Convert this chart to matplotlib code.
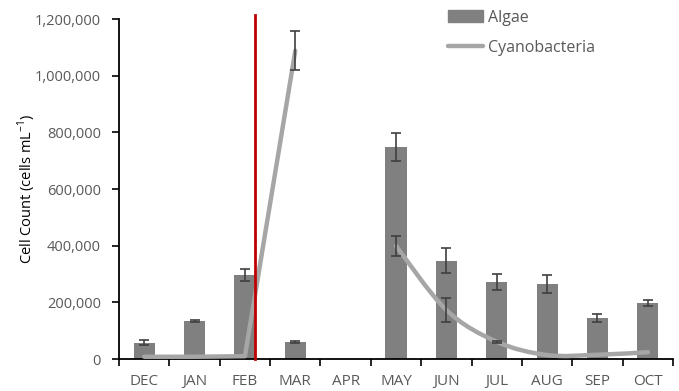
import numpy as np
import matplotlib
matplotlib.use('Agg')
import matplotlib.pyplot as plt
from matplotlib.path import Path
from matplotlib.patches import PathPatch
from matplotlib.lines import Line2D
from matplotlib.ticker import FuncFormatter

months = ['DEC', 'JAN', 'FEB', 'MAR', 'APR', 'MAY', 'JUN', 'JUL', 'AUG', 'SEP', 'OCT']
algae = [58000, 135000, 297000, 61000, np.nan, 749000, 347000, 272000, 265000, 145000, 199000]
algae_err = [8000, 4000, 21000, 4000, np.nan, 50000, 44000, 27000, 33000, 13000, 11000]
cyano = [8000, 8000, 10000, 1088000, np.nan, 399000, 173000, 61000, 14000, 15000, 24000]
cyano_err = [np.nan, np.nan, np.nan, 68000, np.nan, 36000, 44000, 4000, np.nan, np.nan, np.nan]
event_x = 2.2  # marker between FEB and MAR

plt.rcParams['font.family'] = ['Open Sans', 'DejaVu Sans']

fig = plt.figure(figsize=(6.79, 3.91), dpi=100)
ax = fig.add_axes([0.1753, 0.0818, 0.8159, 0.8696])
x = np.arange(len(months))

ax.bar(x, algae, width=0.42, color='#808080', label='Algae', zorder=2)
ax.errorbar(x, algae, yerr=algae_err, fmt='none', ecolor='#404040',
            elinewidth=1.2, capsize=3.5, capthick=1.2, zorder=3)

line_col = '#a6a6a6'
# winter part drawn straight
ax.plot(x[:4], cyano[:4], color=line_col, lw=3.2, solid_capstyle='round', zorder=4)

# smoothed curve for MAY-OCT (Catmull-Rom -> cubic bezier)
def smooth_path(xs, ys):
    xs = np.asarray(xs, float)
    ys = np.asarray(ys, float)
    pts = np.column_stack([xs, ys])
    ext = np.vstack([pts[0], pts, pts[-1]])
    verts = [pts[0]]
    codes = [Path.MOVETO]
    for i in range(1, len(ext) - 2):
        p0, p1, p2, p3 = ext[i - 1], ext[i], ext[i + 1], ext[i + 2]
        c1 = p1 + (p2 - p0) / 6.0
        c2 = p2 - (p3 - p1) / 6.0
        verts += [c1, c2, p2]
        codes += [Path.CURVE4] * 3
    return Path(verts, codes)

ax.add_patch(PathPatch(smooth_path(x[5:], cyano[5:]), fill=False,
                       edgecolor=line_col, lw=3.2, capstyle='round', zorder=4))
ax.errorbar(x, cyano, yerr=cyano_err, fmt='none', ecolor='#404040',
            elinewidth=1.2, capsize=3.5, capthick=1.2, zorder=5)

ax.plot([event_x, event_x], [0, 1215000], color='#c00000', lw=2, clip_on=False, zorder=6)

ax.set_xlim(-0.5, 10.5)
ax.set_ylim(0, 1200000)
ax.set_yticks(np.arange(0, 1200001, 200000))
ax.yaxis.set_major_formatter(FuncFormatter(lambda v, p: f'{int(v):,}'))
ax.set_xticks(np.arange(-0.5, 11, 1.0))
ax.set_xticklabels([])
ax.set_xticks(x, minor=True)
ax.set_xticklabels(months, minor=True)
ax.tick_params(axis='x', which='major', length=5, width=1.2, direction='out')
ax.tick_params(axis='x', which='minor', length=0, pad=11, labelsize=11, labelcolor='#595959')
ax.tick_params(axis='y', length=5, width=1.2, direction='out', labelsize=10.5, labelcolor='#595959', pad=8)
for s in ['top', 'right']:
    ax.spines[s].set_visible(False)
for s in ['left', 'bottom']:
    ax.spines[s].set_linewidth(1.3)

ax.set_ylabel('Cell Count (cells mL$^{\\mathregular{-1}}$)', fontsize=10.5)
ax.yaxis.set_label_coords(-0.146, 0.5)

handles = [plt.Rectangle((0, 0), 1, 1, color='#808080'),
           Line2D([], [], color=line_col, lw=3.2, solid_capstyle='round')]
ax.legend(handles, ['Algae', 'Cyanobacteria'], loc='upper left',
          bbox_to_anchor=(0.567, 1.07), frameon=False, fontsize=11.5,
          labelspacing=0.9, handlelength=2.25, handletextpad=0.3,
          labelcolor='#595959')

fig.savefig('out.png', dpi=100)
